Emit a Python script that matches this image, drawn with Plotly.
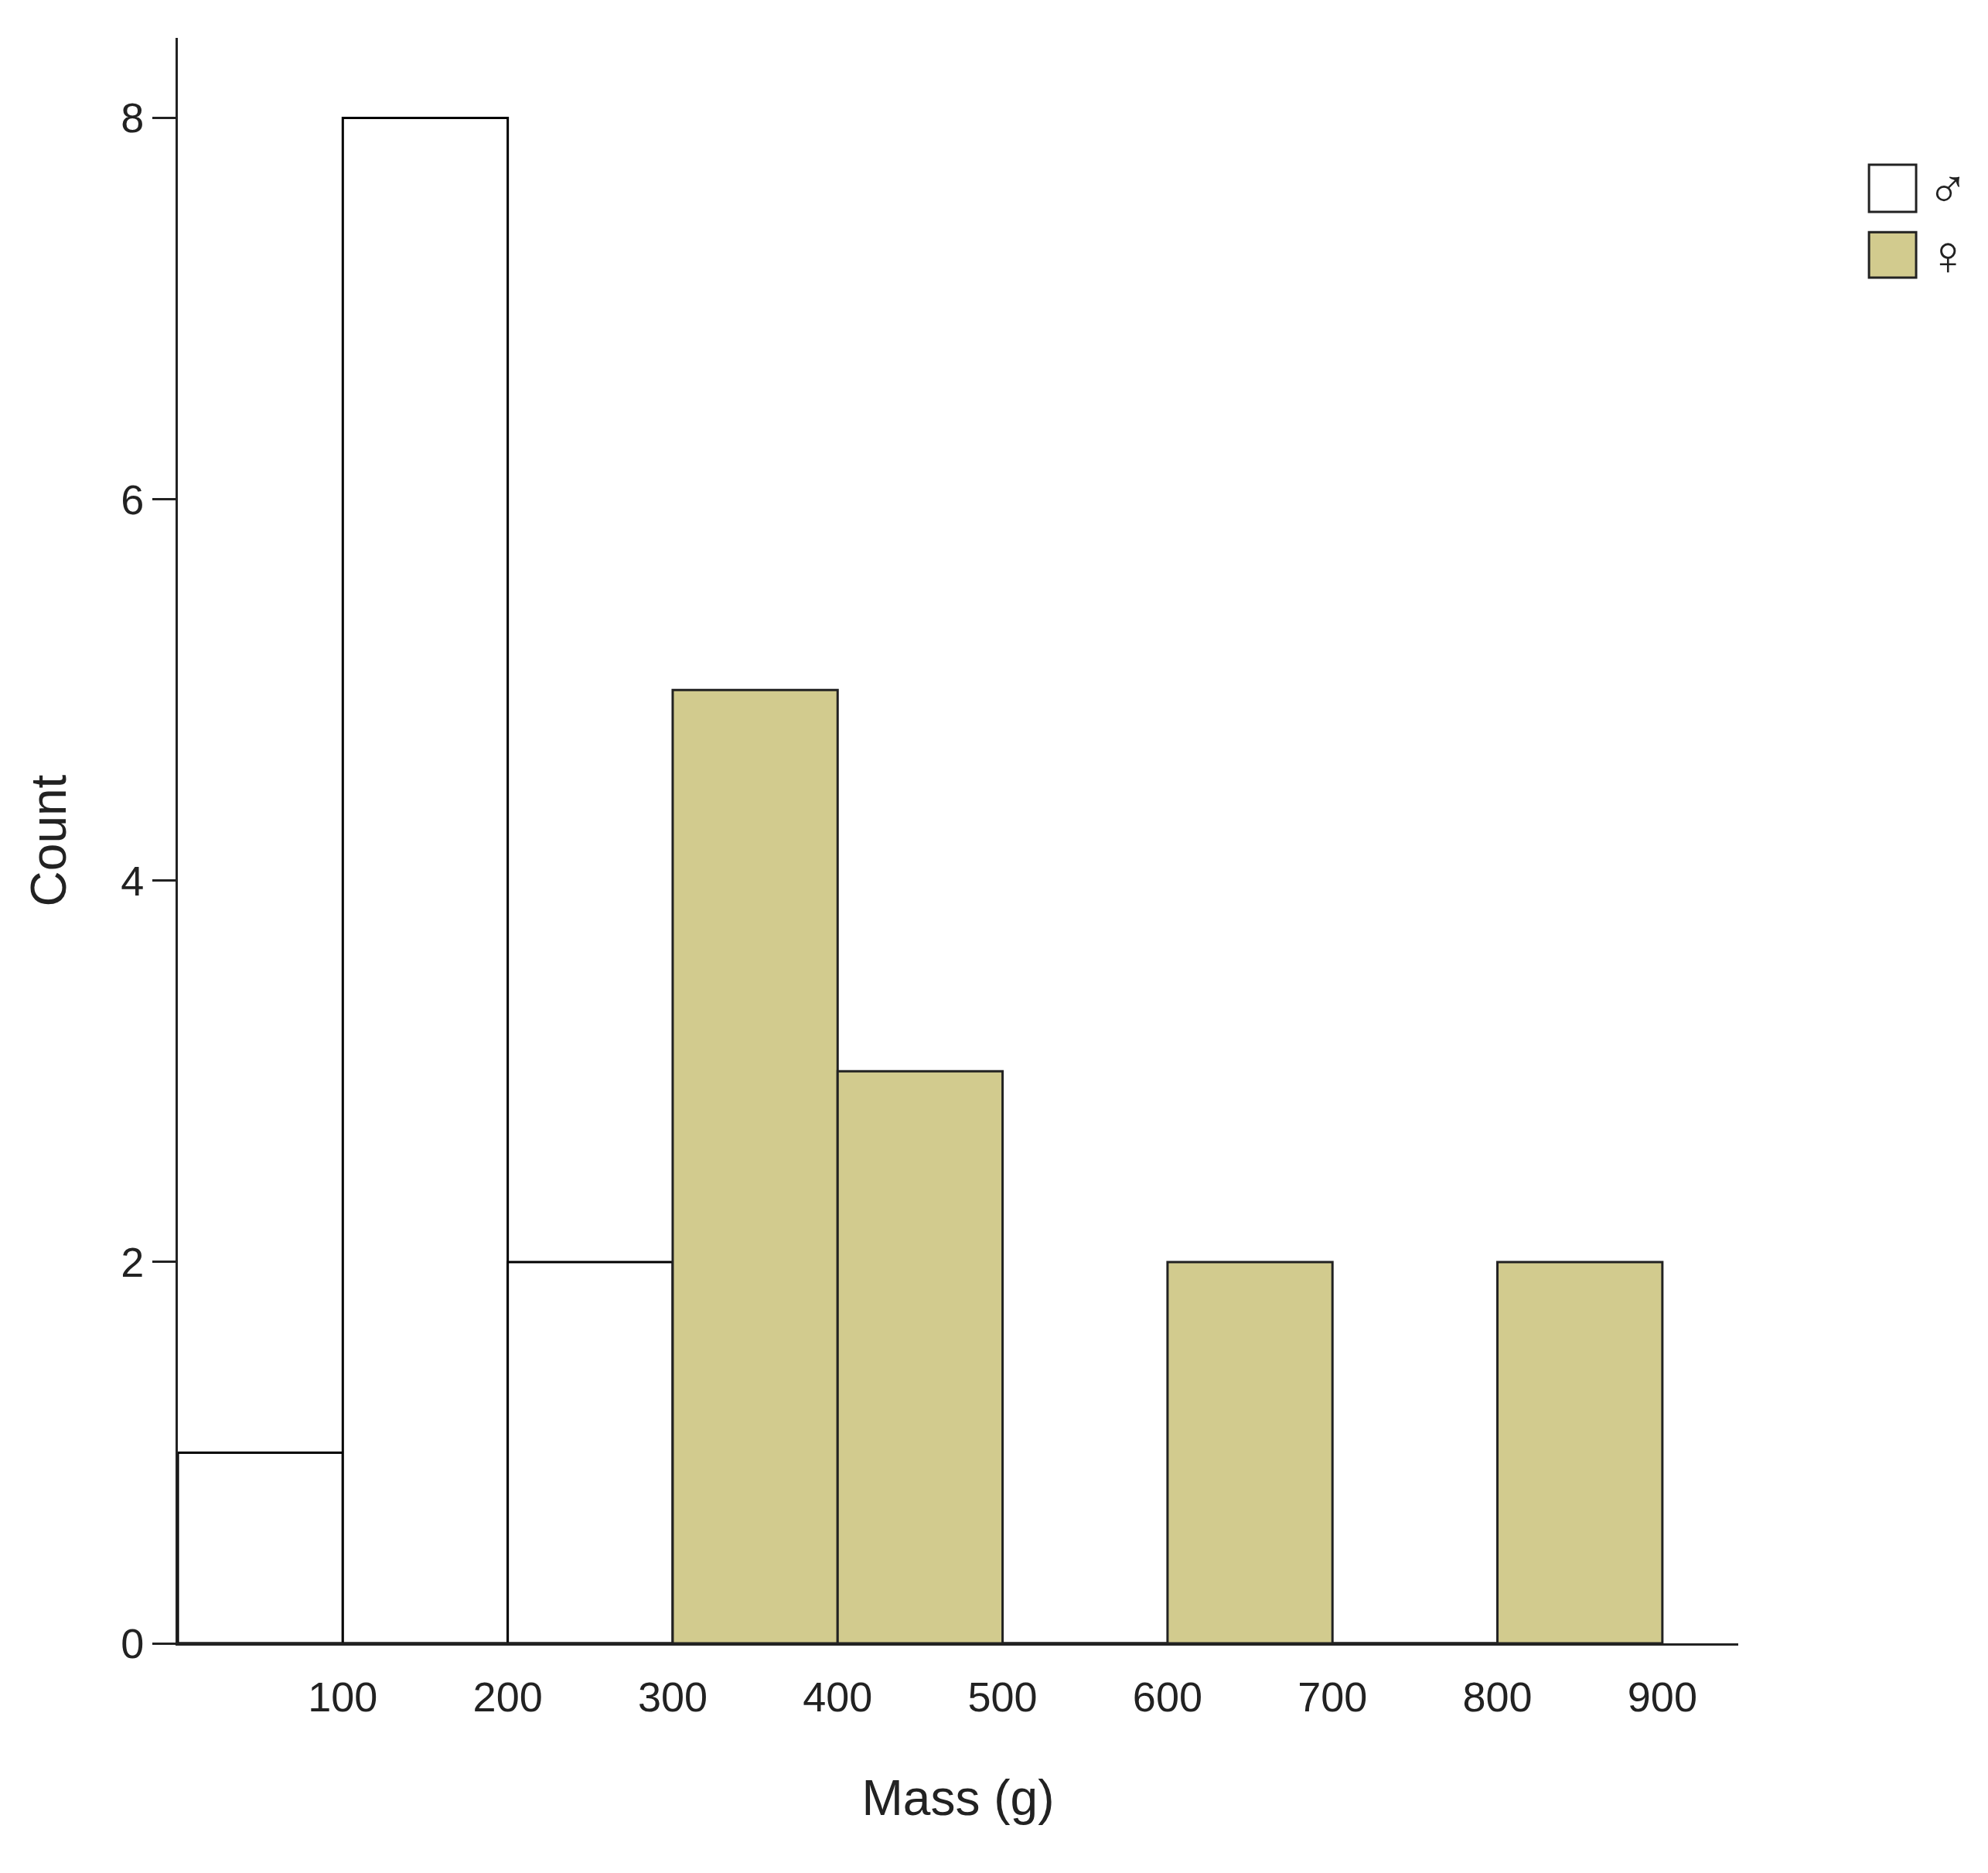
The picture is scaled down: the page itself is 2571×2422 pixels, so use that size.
import plotly.graph_objects as go

bin_left = [0, 100, 200, 300, 400, 500, 600, 700, 800]
male_counts = [1, 8, 2, 0, 0, 0, 0, 0, 0]
female_counts = [0, 0, 0, 5, 3, 0, 2, 0, 2]
bin_width = 100
x_ticks = [100, 200, 300, 400, 500, 600, 700, 800, 900]
y_ticks = [0, 2, 4, 6, 8]
legend_labels = ["♂", "♀"]
colors = ["white", "#d2cb8e"]

centers = [b + bin_width / 2 for b in bin_left]
fig = go.Figure()
fig.add_trace(go.Bar(x=centers, y=male_counts, width=bin_width, name="♂", showlegend=False,
                     marker=dict(color=colors[0], line=dict(color="black", width=3))))
fig.add_trace(go.Bar(x=centers, y=female_counts, width=bin_width, name="♀", showlegend=False,
                     marker=dict(color=colors[1], line=dict(color="#222", width=3))))

# manual legend
sq = [(0.8916, 0.921), (0.8507, 0.879)]
for (y0, y1), lab, c in zip(sq, legend_labels, colors):
    fig.add_shape(type="rect", xref="paper", yref="paper", x0=1.0838, x1=1.114, y0=y0, y1=y1,
                  fillcolor=c, line=dict(color="#222", width=3))
    fig.add_annotation(xref="paper", yref="paper", x=1.12, y=(y0 + y1) / 2, text=lab,
                       showarrow=False, xanchor="left", yanchor="middle",
                       font=dict(size=72, color="#222"))

fig.update_layout(
    width=2571, height=2422, barmode="overlay", plot_bgcolor="white", paper_bgcolor="white",
    margin=dict(l=222, r=331, t=41, b=305),
    font=dict(family="Liberation Sans, Arial", color="#222", size=54),
    showlegend=False,
)
fig.update_xaxes(range=[0, 946], tickvals=x_ticks, showgrid=False, zeroline=False,
                 showline=True, linecolor="#222", linewidth=3, ticks="outside", ticklen=20,
                 tickcolor="rgba(0,0,0,0)",
                 title=dict(text="Mass (g)", font=dict(size=64), standoff=80))
fig.update_yaxes(range=[0, 8.42], tickvals=y_ticks, showgrid=False, zeroline=False,
                 showline=True, linecolor="#222", linewidth=3, ticks="outside", ticklen=30,
                 tickcolor="#222", tickwidth=3,
                 title=dict(text="Count", font=dict(size=64), standoff=50))
fig.write_html("out.html")
